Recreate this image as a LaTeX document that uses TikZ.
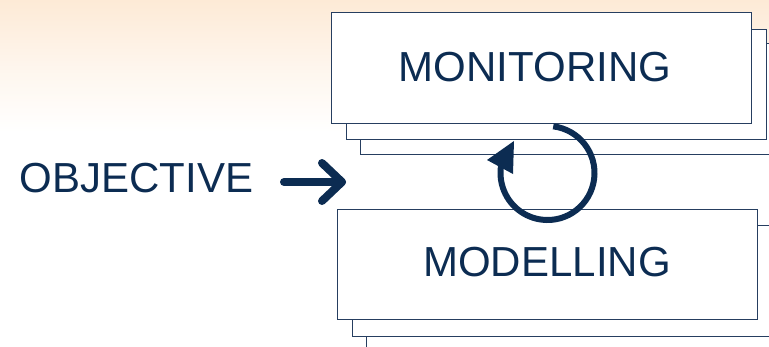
\documentclass[tikz,border=0pt]{standalone}
\usepackage{fontspec}
\setmainfont{Liberation Sans}
\usetikzlibrary{calc}
\begin{document}
\begin{tikzpicture}[x=1pt,y=-1pt,
  box/.style={draw=boxline, line width=1.2pt, fill=white, rectangle, anchor=north west, inner sep=0pt},
  lbl/.style={text=navy, font=\fontsize{42}{42}\selectfont, inner sep=0pt},
  thick arrow/.style={draw=navy, line width=8pt, line cap=round, line join=round}]
\definecolor{navy}{RGB}{12,44,82}
\definecolor{boxline}{RGB}{38,62,96}
\definecolor{peach}{RGB}{253,234,214}
\useasboundingbox (0,0) rectangle (769,346);
\clip (0,0) rectangle (769,346);
\shade[top color=peach, bottom color=white, middle color=peach!45!white, shading angle=0] (0,0) rectangle (769,132);
% monitoring stack
\node[box, minimum width=430pt, minimum height=111pt] (m3) at (360,43) {};
\node[box, minimum width=420pt, minimum height=110pt] (m2) at (346,29) {};
\node[box, minimum width=420pt, minimum height=111pt] (m1) at (331,12) {};
\node[lbl] (mon) at (535,67) {MONITORING};
% modelling stack
\node[box, minimum width=424pt, minimum height=110pt] (d3) at (366,240) {};
\node[box, minimum width=424pt, minimum height=111pt] (d2) at (352,225) {};
\node[box, minimum width=420pt, minimum height=110pt] (d1) at (337,209) {};
\node[lbl] (mod) at (547,262) {MODELLING};
% objective
\node[lbl] (obj) at (136.5,178) {OBJECTIVE};
\coordinate (as) at (284,182);
\coordinate (ae) at (342,182);
\draw[thick arrow] (as) -- (ae);
\draw[thick arrow] (322,163) -- (ae) -- (322,201);
% circular arrow
\coordinate (cc) at (547.5,173);
\draw[navy, line width=6pt] ($(cc)+(-83:47)$) arc[start angle=-83, end angle=195, radius=47];
\fill[navy] (487,160) -- (514,141) -- (513,174) -- cycle;
\end{tikzpicture}
\end{document}
